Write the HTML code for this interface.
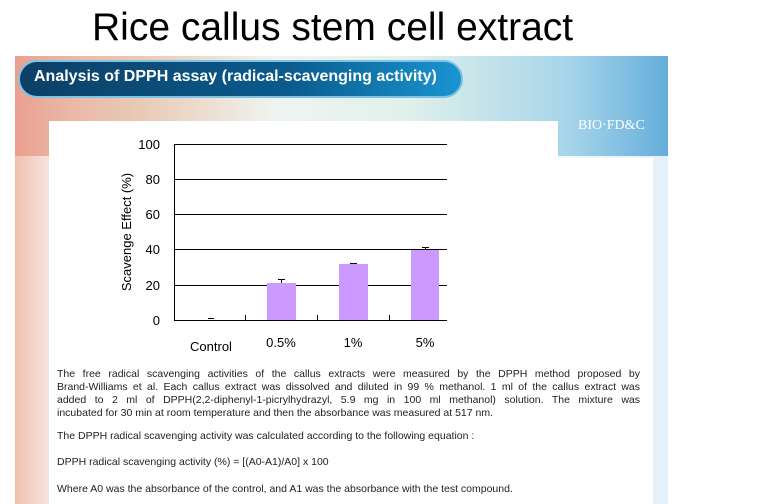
<!DOCTYPE html>
<html><head><meta charset="utf-8"><style>
body{margin:0;width:768px;height:504px;background:#fff;position:relative;overflow:hidden;font-family:"Liberation Sans","DejaVu Sans",sans-serif}
.abs{position:absolute}
.p{font-size:10.5px;color:#222;text-align:justify;text-align-last:justify;line-height:13px}
</style></head><body>
<div class="abs" style="left:92px;top:6px;font-size:39px;color:#000;white-space:nowrap">Rice callus stem cell extract</div>
<div class="abs" style="left:15px;top:56px;width:653px;height:448px;background:linear-gradient(90deg,#f0c0b0 0%,#f6e4dc 5%,#f4f8fb 12%,#f7fafc 80%,#e4f0fa 100%)"></div>
<div class="abs" style="left:15px;top:56px;width:653px;height:100px;background:linear-gradient(90deg,#e89484 0%,#e4b898 18%,#eef2ee 40%,#d8eee6 60%,#8cc8e4 85%,#3a98d0 100%);opacity:.75"></div>
<div class="abs" style="left:18px;top:60px;width:445px;height:38px;border-radius:20px;background:linear-gradient(90deg,#0c3f66,#0a5a8c 60%,#1a94d0);border:2px solid #7fc2e6;box-sizing:border-box"></div>
<div class="abs" style="left:34px;top:68px;font-size:16px;font-weight:bold;color:#fff;white-space:nowrap">Analysis of DPPH assay (radical-scavenging activity)</div>
<div class="abs" style="left:578px;top:118px;font-family:'Liberation Serif',serif;font-size:14px;color:#fff">BIO·FD&amp;C</div>
<div class="abs" style="left:49px;top:121px;width:509px;height:383px;background:#fff"></div>
<div class="abs" style="left:558px;top:158px;width:95px;height:346px;background:#fff"></div>
<svg class="abs" style="left:0;top:0" width="768" height="504">
<g stroke="#000" stroke-width="1">
<line x1="174" y1="144.5" x2="447" y2="144.5"/>
<line x1="174" y1="179.5" x2="447" y2="179.5"/>
<line x1="174" y1="214.5" x2="447" y2="214.5"/>
<line x1="174" y1="249.5" x2="447" y2="249.5"/>
<line x1="174" y1="285.5" x2="447" y2="285.5"/>
<line x1="174" y1="320.5" x2="447" y2="320.5"/>
<line x1="174.5" y1="144" x2="174.5" y2="320"/>
<line x1="245.5" y1="315" x2="245.5" y2="320"/>
<line x1="317.5" y1="315" x2="317.5" y2="320"/>
<line x1="389.5" y1="315" x2="389.5" y2="320"/>
</g>
<g fill="#cc99ff">
<rect x="267" y="283" width="29" height="37"/>
<rect x="339" y="264" width="29" height="56"/>
<rect x="411" y="250" width="28" height="70"/>
</g>
<g stroke="#000" stroke-width="1">
<line x1="281.5" y1="279" x2="281.5" y2="283"/><line x1="278" y1="279.5" x2="285" y2="279.5"/>
<line x1="353.5" y1="263" x2="353.5" y2="264"/><line x1="350" y1="263.5" x2="357" y2="263.5"/>
<line x1="425.5" y1="247" x2="425.5" y2="250"/><line x1="422" y1="247.5" x2="429" y2="247.5"/>
<line x1="208" y1="318.5" x2="214" y2="318.5"/>
</g>
<g font-family="Liberation Sans,sans-serif" font-size="13" fill="#000" text-anchor="end">
<text x="160" y="149">100</text><text x="160" y="184">80</text><text x="160" y="219">60</text>
<text x="160" y="254">40</text><text x="160" y="290">20</text><text x="160" y="325">0</text>
</g>
<g font-family="Liberation Sans,sans-serif" font-size="13" fill="#000" text-anchor="middle">
<text x="211" y="351">Control</text><text x="281" y="347">0.5%</text><text x="353" y="347">1%</text><text x="425" y="347">5%</text>
</g>
<text transform="translate(131,232) rotate(-90)" font-family="Liberation Sans,sans-serif" font-size="13" text-anchor="middle">Scavenge Effect (%)</text>
</svg>
<div class="abs" style="left:57px;top:368px;width:583px">
<div class="p">The free radical scavenging activities of the callus extracts were measured by the DPPH method proposed by</div>
<div class="p">Brand-Williams et al. Each callus extract was dissolved and diluted in 99 % methanol. 1 ml of the callus extract was</div>
<div class="p">added to 2 ml of DPPH(2,2-diphenyl-1-picrylhydrazyl, 5.9 mg in 100 ml methanol) solution. The mixture was</div>
<div class="p" style="text-align-last:left">incubated for 30 min at room temperature and then the absorbance was measured at 517 nm.</div>
</div>
<div class="abs p" style="left:57px;top:430px;text-align-last:left;white-space:nowrap">The DPPH radical scavenging activity was calculated according to the following equation :</div>
<div class="abs p" style="left:57px;top:456px;text-align-last:left;white-space:nowrap">DPPH radical scavenging activity (%) = [(A0-A1)/A0] x 100</div>
<div class="abs p" style="left:57px;top:483px;text-align-last:left;white-space:nowrap">Where A0 was the absorbance of the control, and A1 was the absorbance with the test compound.</div>
</body></html>
